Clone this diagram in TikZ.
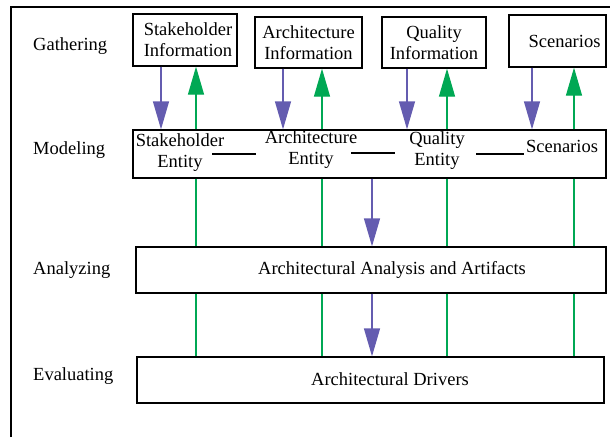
\documentclass[tikz,border=0pt]{standalone}
\usepackage{fontspec}
\setmainfont{Liberation Serif}
\usetikzlibrary{arrows.meta}
\definecolor{pur}{RGB}{100,92,176}
\definecolor{grn}{RGB}{0,168,84}
\begin{document}
\begin{tikzpicture}[x=1pt,y=-1pt,
  txt/.style={font=\fontsize{18.5}{21}\selectfont,inner sep=0pt,align=center},
  box/.style={draw,line width=1.3pt,inner sep=0pt,txt},
  frame/.style={line width=1.3pt},
  parr/.style={draw=pur,line width=1.3pt,-{Triangle[width=16pt,length=28pt]},fill=pur},
  garr/.style={draw=grn,line width=1.3pt,-{Triangle[width=16pt,length=28pt]},fill=grn},
  gline/.style={draw=grn,line width=1.3pt},
  tie/.style={draw,line width=1.3pt}]
\useasboundingbox (0,0) rectangle (610,437);
% outer frame
\coordinate (f1) at (11,437);
\coordinate (f2) at (11,7);
\coordinate (f3) at (610,7);
\draw[frame] (f1) -- (f2) -- (f3);
% row labels
\node[txt,anchor=west] (lg) at (33,46) {Gathering};
\node[txt,anchor=west] (lm) at (33,150) {Modeling};
\node[txt,anchor=west] (la) at (33,270) {Analyzing};
\node[txt,anchor=west] (le) at (33,376) {Evaluating};
% gathering boxes
\node[box,minimum width=104pt,minimum height=52pt] (si) at (185,40) {\hspace*{6pt}Stakeholder\\\hspace*{6pt}Information};
\node[box,minimum width=107pt,minimum height=51pt] (ai) at (308.5,42.5) {Architecture\\Information};
\node[box,minimum width=104pt,minimum height=51pt] (qi) at (434,42.5) {Quality\\Information};
\node[box,minimum width=97pt,minimum height=52pt] (sc) at (557.5,41) {\hspace*{14pt}Scenarios};
% modeling box
\node[box,minimum width=473pt,minimum height=48pt] (mb) at (369.5,154) {};
\node[txt] (set) at (180,152.5) {Stakeholder\\Entity};
\node[txt] (aet) at (311,150) {Architecture\\Entity};
\node[txt] (qet) at (437,151) {Quality\\Entity};
\node[txt] (sct) at (562,146) {Scenarios};
\coordinate (t1a) at (212,154); \coordinate (t1b) at (256,154);
\coordinate (t2a) at (351,153); \coordinate (t2b) at (395,153);
\coordinate (t3a) at (476,154); \coordinate (t3b) at (524,154);
\draw[tie] (t1a) -- (t1b);
\draw[tie] (t2a) -- (t2b);
\draw[tie] (t3a) -- (t3b);
% analysis and evaluating boxes
\node[box,minimum width=470pt,minimum height=46pt] (ab) at (371,270) {};
\node[txt] (abt) at (392,270) {Architectural Analysis and Artifacts};
\node[box,minimum width=467pt,minimum height=46pt] (eb) at (370.5,380) {};
\node[txt] (ebt) at (390,379) {Architectural Drivers};
% gathering <-> modeling arrows
\coordinate (p1) at ([xshift=-24pt]si.south);
\coordinate (g1) at ([xshift=11pt]si.south);
\coordinate (p2) at ([xshift=-25.5pt]ai.south);
\coordinate (g2) at ([xshift=13.5pt]ai.south);
\coordinate (p3) at ([xshift=-27pt]qi.south);
\coordinate (g3) at ([xshift=13pt]qi.south);
\coordinate (p4) at ([xshift=-25.5pt]sc.south);
\coordinate (g4) at ([xshift=16.5pt]sc.south);
\foreach \p in {p1,p2,p3,p4}{\draw[parr] (\p) -- (\p |- mb.north);}
\foreach \g in {g1,g2,g3,g4}{\draw[garr] (\g |- mb.north) -- (\g);}
% green lines down
\foreach \g in {g1,g2,g3,g4}{
  \draw[gline] (\g |- mb.south) -- (\g |- ab.north);
  \draw[gline] (\g |- ab.south) -- (\g |- eb.north);
}
% purple arrows down
\coordinate (pc) at (372,178);
\draw[parr] (pc |- mb.south) -- (pc |- ab.north);
\draw[parr] (pc |- ab.south) -- (pc |- eb.north);
\end{tikzpicture}
\end{document}
